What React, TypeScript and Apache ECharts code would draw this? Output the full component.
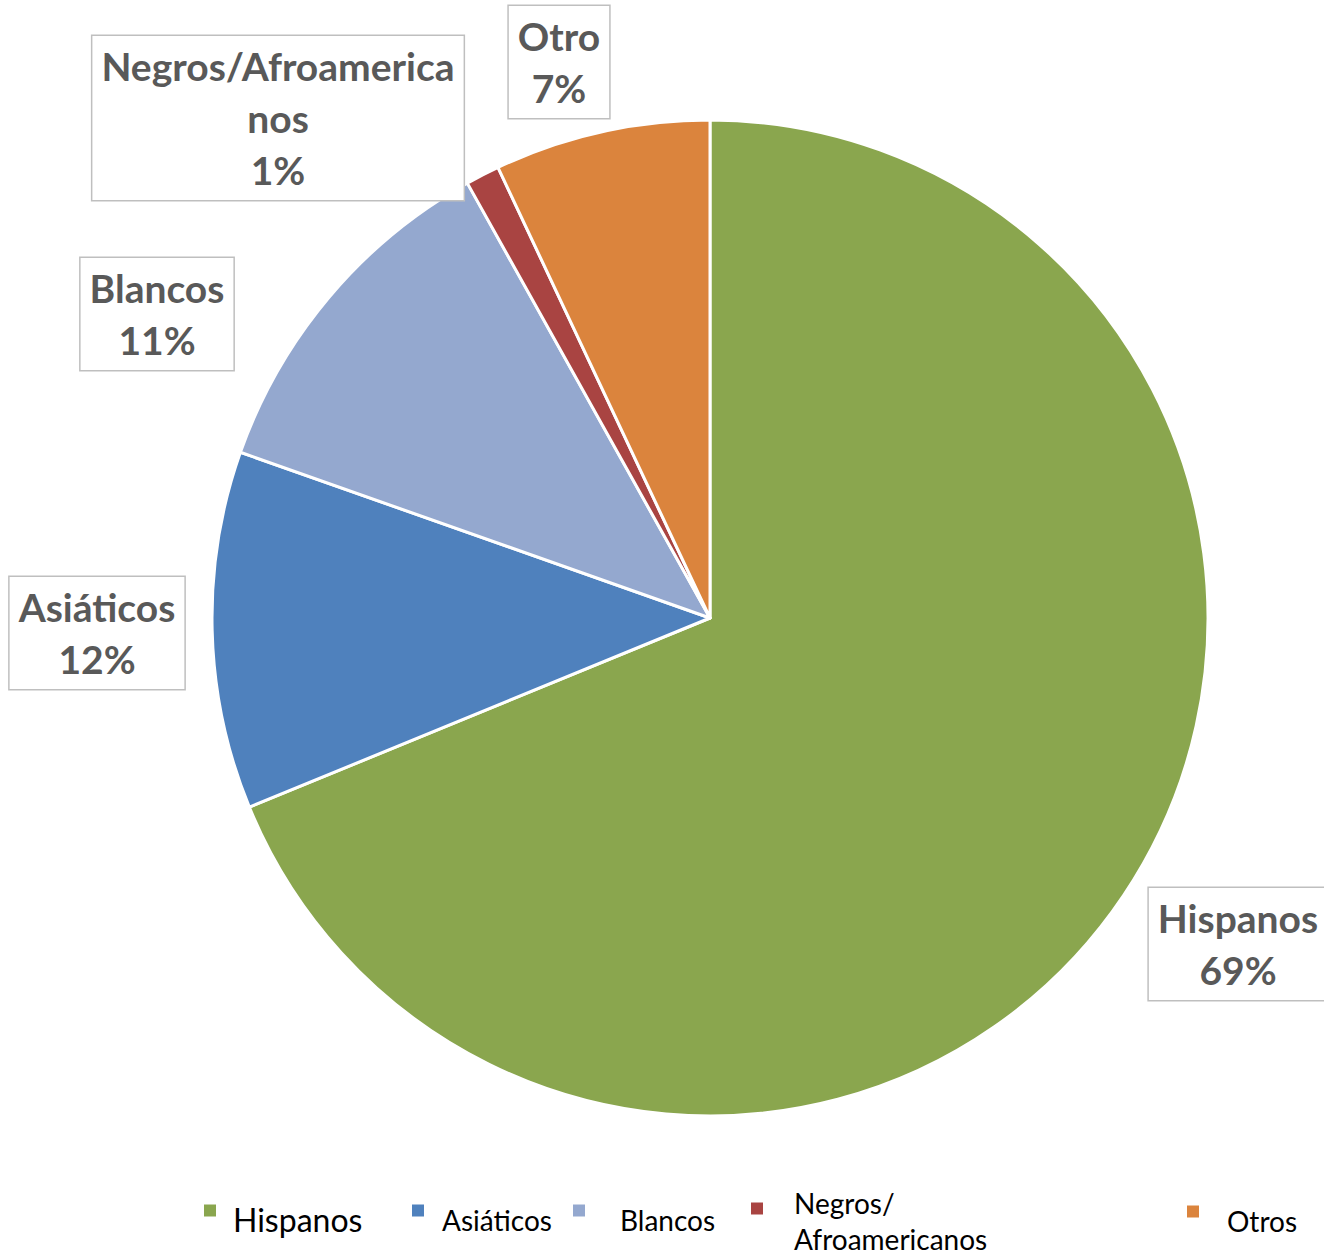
import React, { useEffect, useRef } from "react";
import * as echarts from "echarts";

// ---- data ----
const categories = ["Hispanos", "Asiáticos", "Blancos", "Negros/\nAfroamericanos", "Otros"];
const values = [68.8, 11.6, 11.5, 1.1, 7.0];
const labelNames = ["Hispanos", "Asiáticos", "Blancos", "Negros/Afroamerica\nnos", "Otro"];
const colors = ["#8AA64E", "#4F81BD", "#94A8CF", "#A94442", "#DB843D"];

// ---- layout (label centres, legend placement) ----
const labelCenters: [number, number][] = [
  [1238, 944],
  [97, 633],
  [157, 314],
  [278, 118],
  [559, 62],
];
const legendLeft = [202, 410, 571, 749, 1185];
const legendMarkerTop = [1212, 1212, 1212, 1213, 1213];
const legendFont = [32, 28, 28, 28, 28];
const legendLine = [40, 35, 35, 36, 35];
const legendSpacer = [18, 18, 18, 24, 18];
const legendPadLeft = [11, 12, 29, 25, 22];

export default function App() {
  const ref = useRef<HTMLDivElement>(null);
  useEffect(() => {
    if (!ref.current) return;
    const chart = echarts.init(ref.current, null, { renderer: "svg" });
    const legends = categories.map((name, i) => {
      const lines = name.split("\n");
      const h = legendSpacer[i] + lines.length * legendLine[i];
      return {
        data: [name],
        left: legendLeft[i],
        top: legendMarkerTop[i] + 7 - h / 2,
        orient: "horizontal",
        icon: "rect",
        itemWidth: 14,
        itemHeight: 14,
        selectedMode: false,
        padding: 0,
        formatter: (n: string) =>
          "{s| }\n" + n.split("\n").map((l) => `{a|${l}}`).join("\n"),
        textStyle: {
          fontFamily: "Lato",
          fontSize: legendFont[i],
          color: "#000",
          padding: [0, 0, 0, legendPadLeft[i]],
          rich: {
            s: { fontSize: 1, lineHeight: legendSpacer[i] },
            a: {
              fontFamily: "Lato",
              fontSize: legendFont[i],
              lineHeight: legendLine[i],
              color: "#000",
            },
          },
        },
      };
    });
    chart.setOption({
      animation: false,
      color: colors,
      legend: legends,
      series: [
        {
          type: "pie",
          center: [710, 618],
          radius: 498,
          startAngle: 90,
          clockwise: true,
          avoidLabelOverlap: false,
          percentPrecision: 0,
          itemStyle: { borderColor: "#fff", borderWidth: 3 },
          labelLine: { show: false },
          label: {
            show: true,
            position: "outside",
            formatter: (p: any) => `${labelNames[p.dataIndex]}\n${p.percent}%`,
            fontFamily: "Lato",
            fontWeight: "bold",
            fontSize: 39,
            lineHeight: 52,
            color: "#595959",
            backgroundColor: "#fff",
            borderColor: "#BFBFBF",
            borderWidth: 1.5,
            padding: [4, 9, 4, 9],
            align: "center",
          },
          labelLayout: (params: any) => ({
            x: labelCenters[params.dataIndex][0],
            y: labelCenters[params.dataIndex][1],
            align: "center",
            verticalAlign: "middle",
          }),
          data: categories.map((name, i) => ({ name, value: values[i] })),
        },
      ],
    });
    return () => chart.dispose();
  }, []);
  return (
    <div
      ref={ref}
      style={{ position: "absolute", left: 0, top: 0, width: 1324, height: 1255, background: "#fff" }}
    />
  );
}
